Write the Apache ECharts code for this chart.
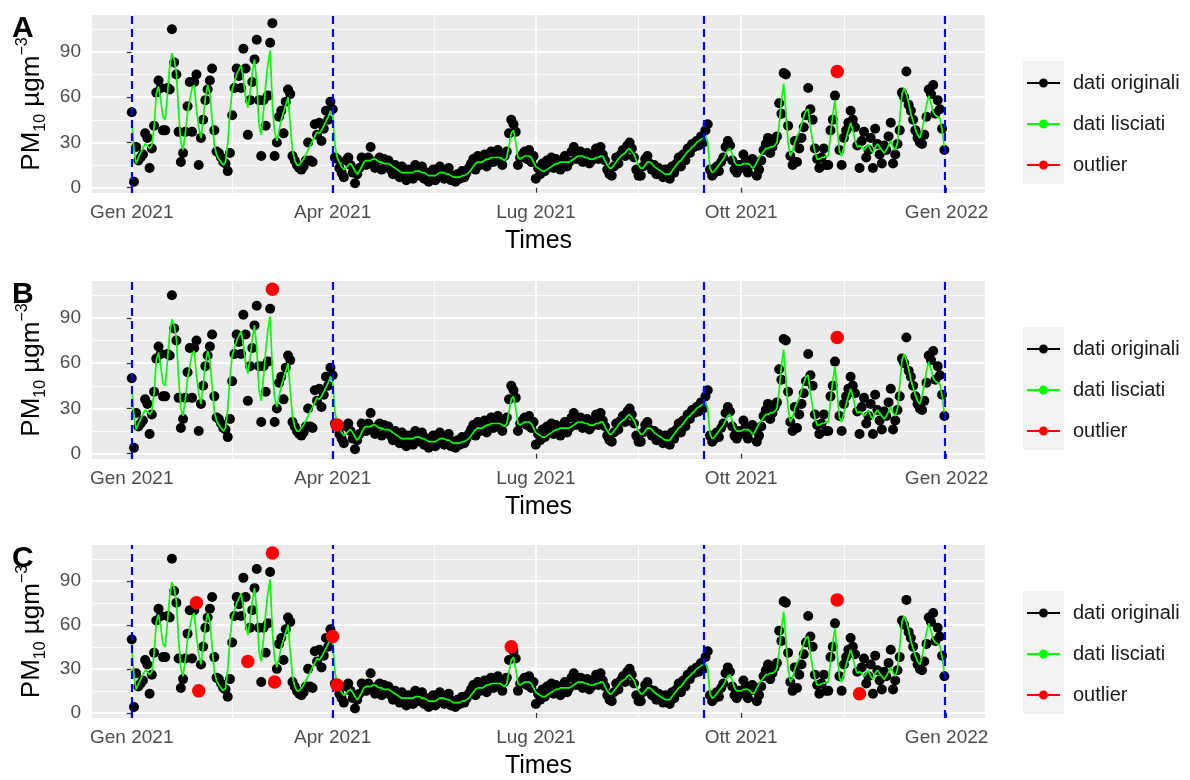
<!DOCTYPE html>
<html>
<head>
<meta charset="utf-8">
<script src="https://cdn.jsdelivr.net/npm/echarts@6/dist/echarts.min.js"></script>
<style>
  html, body { margin: 0; background: #fff; }
  #main { width: 1190px; height: 780px; }
</style>
</head>
<body>
<div id="main"></div>
<script>
// PM10 giornaliero 2021 (un valore per giorno)
const orig_gen = [50,4,27,18,20,22,36,33,13,26,41,63,71,66,38,38,66,65,105,83,75,37,17,23,37,54,70,37,70,75,15];
const orig_feb = [33,45,58,65,71,79,38,24,23,20,17,16,11,23,48,66,79,74,66,92,79,35,58,70,85,98,58,21];
const orig_mar = [58,41,61,96,109,21,30,47,51,36,57,65,62,21,18,15,13,12,14,18,30,18,17,42,35,43,31,39,51,45,57];
const orig_apr = [52,20,19,13,10,7,18,20,15,10,3,9,13,20,17,15,20,27,16,13,18,20,12,19,14,18,12,9,15,11];
const orig_mag = [7,14,9,5,12,10,6,15,11,8,14,6,10,4,9,12,5,8,14,11,6,10,13,5,8,4,9,6,11,7,10];
const orig_giu = [13,16,19,12,21,15,18,22,14,20,24,17,22,25,18,15,21,24,36,45,42,37,15,20,22,24,19,25,17,21];
const orig_lug = [6,13,9,16,11,18,14,20,13,19,16,12,18,21,14,17,24,27,19,22,24,17,20,23,16,18,22,26,19,27,22];
const orig_ago = [18,12,9,8,14,20,16,22,25,21,28,30,26,20,12,8,8,14,19,21,16,12,15,9,13,11,7,12,8,6,14];
const orig_set = [10,16,20,14,22,18,26,23,29,27,31,28,34,30,38,42,12,8,10,14,11,17,20,27,31,28,18,12,10,15];
const orig_ott = [13,22,18,10,15,19,17,8,12,18,25,29,33,23,27,31,34,56,49,76,75,41,21,15,31,17,26,33,40,48,66];
const orig_nov = [52,45,26,19,13,20,26,15,15,38,45,61,77,25,15,33,38,43,51,45,40,28,13,31,37,20,25,33,13,39];
const orig_dic = [29,22,16,28,25,34,43,16,22,29,38,63,60,77,55,51,45,38,33,30,29,35,47,65,62,68,49,58,52,39,25];

// dati lisciati
const lis_gen = [45,25,16,20,23,26,29,28,26,28,40,62,67,58,47,45,62,80,89,85,76,50,30,25,36,50,58,66,68,52,40];
const lis_feb = [33,45,60,68,62,45,28,22,19,17,15,17,30,50,65,70,75,78,81,72,60,53,63,76,85,70,42,35];
const lis_mar = [50,68,82,91,55,37,31,38,45,50,55,60,42,25,18,15,15,17,19,22,25,28,31,34,37,36,38,41,44,47,51];
const lis_apr = [48,28,20,17,14,12,13,15,16,14,11,9,11,14,17,18,18,18,19,19,18,17,17,16,16,16,15,14,13,12];
const lis_mag = [11,10,10,10,10,10,10,11,11,11,10,10,9,8,8,8,8,9,10,10,10,9,9,8,7,7,7,7,8,8,9];
const lis_giu = [10,12,14,16,17,17,17,18,19,19,20,20,20,20,20,19,18,20,28,36,38,30,20,19,20,21,21,21,20,17];
const lis_lug = [14,13,12,11,11,12,13,14,15,16,16,17,17,17,17,17,18,19,20,21,21,21,20,20,19,19,19,20,20,21,21];
const lis_ago = [18,15,13,13,15,17,19,21,22,23,25,26,24,22,18,15,13,13,15,17,17,16,14,13,12,11,10,9,9,9,11];
const lis_set = [13,15,17,18,20,22,24,25,27,28,30,31,32,33,34,30,13,10,11,13,15,17,19,22,25,26,22,17,15,15];
const lis_ott = [15,16,16,16,15,13,14,17,20,22,24,26,26,27,27,28,30,42,58,69,50,30,21,24,30,34,37,42,47,51,52];
const lis_nov = [40,31,24,19,19,20,20,21,21,35,48,58,40,24,21,27,33,38,43,38,31,27,28,27,25,27,29,25,23,27];
const lis_dic = [29,27,25,23,25,28,31,27,25,30,45,62,66,62,56,49,44,39,35,33,38,46,55,61,56,50,48,47,46,38,27];

// giorni (da 1 gen 2021) segnati come outlier in ciascun pannello
const outlier_A = [316];
const outlier_B = [63, 92, 316];
const outlier_C = [29, 30, 52, 63, 64, 90, 92, 170, 316, 326];

// linee tratteggiate blu (giorni)
const breakpoints = [0, 90, 256, 364];

const tick_x = [0, 90, 181, 273, 365];
const tick_x_labels = ['Gen 2021', 'Apr 2021', 'Lug 2021', 'Ott 2021', 'Gen 2022'];
const minor_x = [45, 135.5, 227, 319];
const tick_y = [0, 30, 60, 90];
const minor_y = [15, 45, 75, 105];
const panel_letters = ['A', 'B', 'C'];

var chart = echarts.init(document.getElementById('main'));

var dati = [].concat(orig_gen, orig_feb, orig_mar, orig_apr, orig_mag, orig_giu,
                     orig_lug, orig_ago, orig_set, orig_ott, orig_nov, orig_dic);
var lisciati = [].concat(lis_gen, lis_feb, lis_mar, lis_apr, lis_mag, lis_giu,
                         lis_lug, lis_ago, lis_set, lis_ott, lis_nov, lis_dic);
var outliers = [outlier_A, outlier_B, outlier_C];

var font = 'Liberation Sans';
var tops = [15, 281, 545];
var legendIcon = 'path://M0,3.4H12V5.6H0Z M21,3.4H33V5.6H21Z M12,4.5A4.5,4.5 0 1,1 21,4.5A4.5,4.5 0 1,1 12,4.5Z';

var grids = [], xAxes = [], yAxes = [], series = [], titles = [], legends = [], rects = [];

tops.forEach(function (top, p) {
  grids.push({
    left: 92, top: top, width: 893, height: 178,
    show: true, backgroundColor: '#ebebeb', borderWidth: 0
  });
  xAxes.push({
    type: 'value', gridIndex: p, min: -17.8, max: 382.2,
    axisLine: { show: false },
    axisTick: { show: true, customValues: tick_x, length: 5, lineStyle: { color: '#333333', width: 1.3 } },
    axisLabel: {
      customValues: tick_x, margin: 10, color: '#4d4d4d', fontSize: 19, fontFamily: font,
      formatter: function (v) { return tick_x_labels[tick_x.indexOf(v)]; }
    },
    splitLine: { show: true, lineStyle: { color: '#ffffff', width: 1.8 } },
    name: 'Times', nameLocation: 'middle', nameGap: 36,
    nameTextStyle: { fontSize: 25, color: '#000', fontFamily: font }
  });
  yAxes.push({
    type: 'value', gridIndex: p, min: -3.5, max: 114.4,
    axisLine: { show: false },
    axisTick: { show: true, customValues: tick_y, length: 5, lineStyle: { color: '#333333', width: 1.3 } },
    axisLabel: { customValues: tick_y, margin: 11, color: '#4d4d4d', fontSize: 19, fontFamily: font },
    splitLine: { show: true, lineStyle: { color: '#ffffff', width: 1.8 } },
    name: '{n|PM}{s|10}{n| µgm}{p|−3}',
    nameLocation: 'middle', nameRotate: 90, nameGap: 43,
    nameTextStyle: {
      fontFamily: font,
      rich: {
        n: { fontSize: 26, lineHeight: 34, color: '#000', fontFamily: font },
        s: { fontSize: 16, lineHeight: 16, verticalAlign: 'bottom', color: '#000', fontFamily: font },
        p: { fontSize: 16, lineHeight: 16, verticalAlign: 'top', color: '#000', fontFamily: font }
      }
    }
  });

  var minorLines = minor_y.map(function (v) { return { yAxis: v }; })
    .concat(minor_x.map(function (v) { return { xAxis: v }; }));

  series.push({
    name: 'dati originali', type: 'scatter', xAxisIndex: p, yAxisIndex: p, z: 2,
    symbolSize: 10, itemStyle: { color: '#000000', opacity: 1 },
    data: dati.map(function (v, i) { return [i, v]; }),
    markLine: {
      silent: true, z: 1, symbol: 'none', label: { show: false },
      lineStyle: { color: '#ffffff', width: 0.9, type: 'solid' },
      emphasis: { disabled: true },
      data: minorLines
    }
  });
  series.push({
    name: 'dati lisciati', type: 'line', xAxisIndex: p, yAxisIndex: p, z: 3,
    showSymbol: false, symbol: 'circle', color: '#00ff00',
    itemStyle: { color: '#00ff00', opacity: 1 },
    lineStyle: { color: '#00ff00', width: 1.7 },
    data: lisciati.map(function (v, i) { return [i, v]; }),
    markLine: {
      silent: true, z: 4, symbol: 'none', label: { show: false },
      lineStyle: { color: '#0000ff', width: 2.2, type: [8, 5] },
      emphasis: { disabled: true },
      data: breakpoints.map(function (d) { return { xAxis: d }; })
    }
  });
  series.push({
    name: 'outlier', type: 'scatter', xAxisIndex: p, yAxisIndex: p, z: 6,
    symbolSize: 13.5, itemStyle: { color: '#ff0000', opacity: 1 },
    data: outliers[p].map(function (d) { return [d, dati[d]]; })
  });

  titles.push({
    text: panel_letters[p], left: 12, top: top - 1, padding: 0,
    textStyle: { fontSize: 30, fontWeight: 'bold', color: '#000', fontFamily: font }
  });
  legends.push({
    orient: 'vertical', left: 1027, top: top + 58, padding: 0,
    itemWidth: 33, itemHeight: 9, itemGap: 21, icon: legendIcon,
    selectedMode: false,
    itemStyle: { opacity: 1 },
    textStyle: { fontSize: 20, color: '#1a1a1a', fontFamily: font, padding: [0, 0, 0, 8] },
    data: ['dati originali', 'dati lisciati', 'outlier']
  });
  rects.push({
    type: 'rect', left: 1023, top: top + 46, z: 0, silent: true,
    shape: { width: 41, height: 123 },
    style: { fill: '#f2f2f2' }
  });
});

var option = {
  animation: false,
  backgroundColor: '#ffffff',
  title: titles,
  legend: legends,
  graphic: rects,
  grid: grids,
  xAxis: xAxes,
  yAxis: yAxes,
  series: series
};

chart.setOption(option);
</script>
</body>
</html>
